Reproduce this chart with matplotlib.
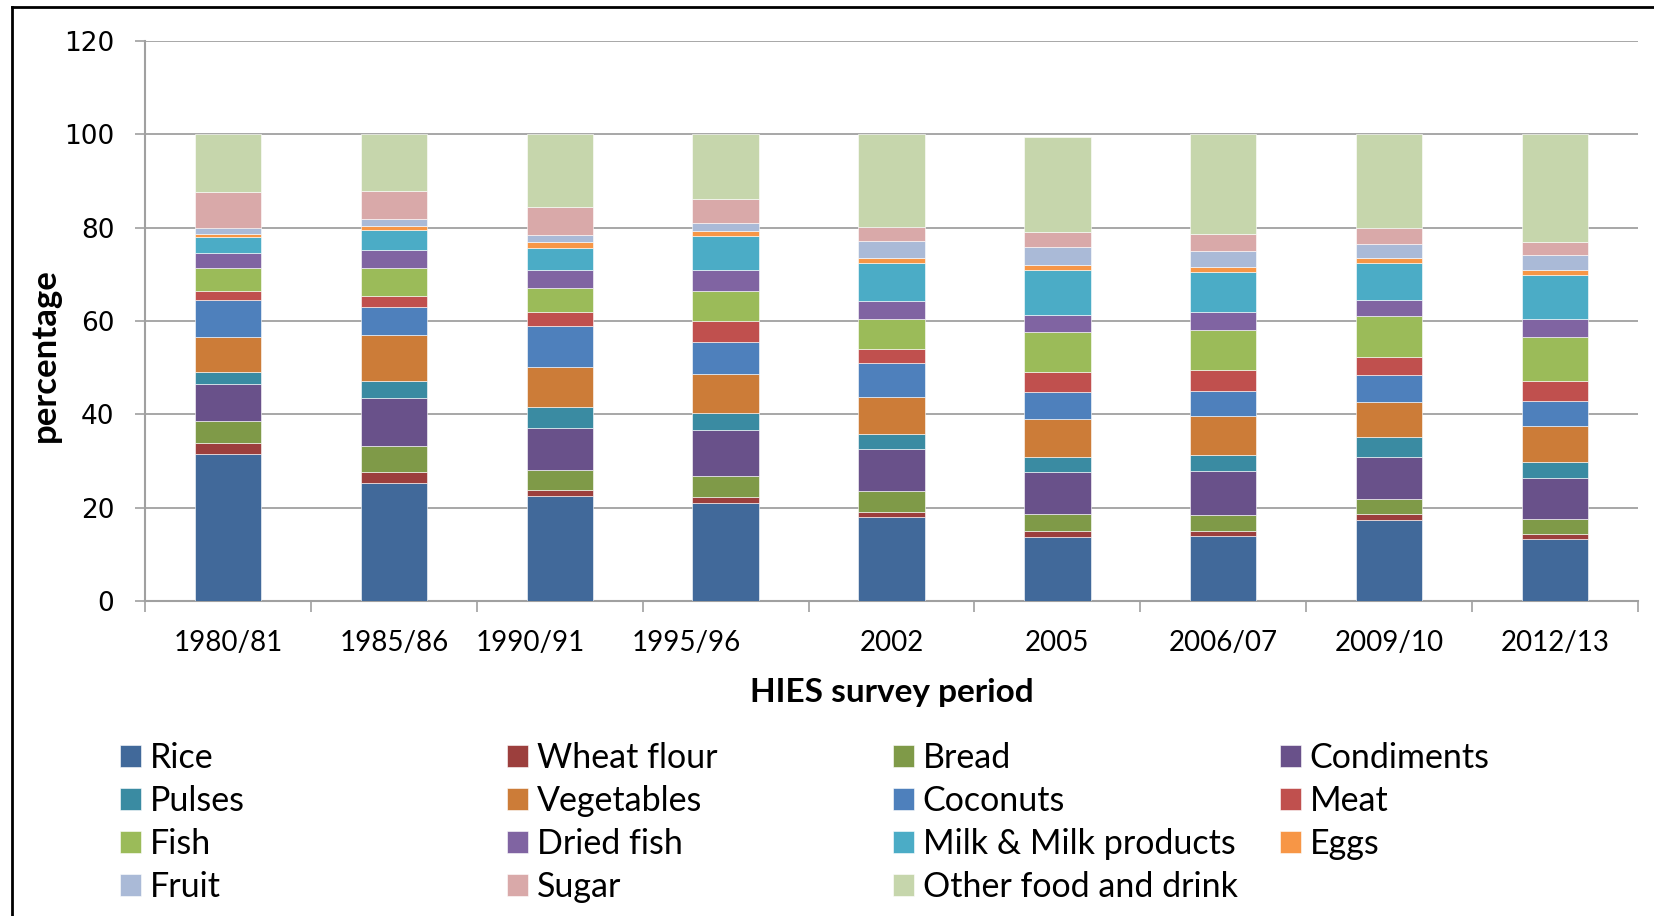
import numpy as np
import matplotlib.pyplot as plt
from matplotlib.lines import Line2D

# survey periods
periods = ['1980/81', '1985/86', '1990/91', '1995/96', '2002', '2005',
           '2006/07', '2009/10', '2012/13']

# share of food expenditure (%), bottom to top
rice       = [31.4, 25.2, 22.4, 21.1, 18.0, 13.7, 13.9, 17.3, 13.2]
wheat      = [2.4, 2.5, 1.3, 1.1, 1.1, 1.2, 1.0, 1.3, 1.2]
bread      = [4.8, 5.5, 4.3, 4.5, 4.4, 3.7, 3.5, 3.3, 3.2]
condiments = [8.0, 10.4, 9.0, 9.9, 9.0, 9.0, 9.4, 9.0, 8.7]
pulses     = [2.4, 3.5, 4.5, 3.6, 3.2, 3.3, 3.4, 4.2, 3.4]
vegetables = [7.5, 10.0, 8.7, 8.4, 8.0, 8.2, 8.5, 7.5, 7.9]
coconuts   = [8.1, 5.8, 8.7, 6.9, 7.2, 5.6, 5.4, 5.8, 5.2]
meat       = [1.8, 2.5, 3.0, 4.4, 3.2, 4.4, 4.3, 3.8, 4.4]
fish       = [5.0, 5.9, 5.2, 6.6, 6.4, 8.5, 8.6, 8.8, 9.3]
dried_fish = [3.2, 4.0, 3.9, 4.5, 3.7, 3.6, 4.0, 3.6, 3.9]
milk       = [3.3, 4.3, 4.7, 7.2, 8.3, 9.8, 8.6, 7.9, 9.5]
eggs       = [0.8, 0.8, 1.2, 1.1, 0.9, 1.0, 1.0, 1.1, 1.0]
fruit      = [1.2, 1.4, 1.5, 1.6, 3.7, 3.9, 3.5, 2.8, 3.3]
sugar      = [7.8, 6.1, 6.1, 5.3, 3.1, 3.2, 3.6, 3.5, 2.8]
other      = [12.3, 12.1, 15.5, 13.8, 19.8, 20.4, 21.3, 20.1, 23.0]

series = [
  ('Rice', rice, '#41699a'),
  ('Wheat flour', wheat, '#9c3f3d'),
  ('Bread', bread, '#7f9a48'),
  ('Condiments', condiments, '#69518a'),
  ('Pulses', pulses, '#3a8ba2'),
  ('Vegetables', vegetables, '#cc7c38'),
  ('Coconuts', coconuts, '#4e80bc'),
  ('Meat', meat, '#c0504e'),
  ('Fish', fish, '#9bbb59'),
  ('Dried fish', dried_fish, '#8064a2'),
  ('Milk & Milk products', milk, '#4bacc6'),
  ('Eggs', eggs, '#f79646'),
  ('Fruit', fruit, '#aabad7'),
  ('Sugar', sugar, '#d9a9a9'),
  ('Other food and drink', other, '#c6d6ac'),
]

# a couple of the category labels sit left of their bars in the original
label_shift = [0, 0, -0.175, -0.235, 0, 0, 0, 0, 0]

FONT = 'Lato'
W, H, DPI = 1654, 916, 100
fig = plt.figure(figsize=(W / DPI, H / DPI), dpi=DPI)
ax = fig.add_axes([145 / W, 1 - 601 / H, (1638 - 145) / W, (601 - 41) / H])

x = np.arange(len(periods))
bottom = np.zeros(len(periods))
handles = []
for name, vals, col in series:
  b = ax.bar(x, vals, 0.4, bottom=bottom, color=col, edgecolor='white',
             linewidth=0.4, label=name, zorder=3)
  handles.append(b)
  bottom += np.array(vals)

grid_col = '#a0a0a0'
ax.set_ylim(0, 120)
ax.set_xlim(-0.5, len(periods) - 0.5)
ax.set_yticks(np.arange(0, 121, 20))
ax.yaxis.grid(True, color=grid_col, linewidth=1.3, zorder=0)
ax.set_axisbelow(True)
for s in ['top', 'right']:
  ax.spines[s].set_visible(False)
for s in ['left', 'bottom']:
  ax.spines[s].set_color(grid_col)
  ax.spines[s].set_linewidth(1.5)

ax.tick_params(axis='y', direction='out', length=7, width=1.2, color=grid_col,
               pad=15, labelsize=19, labelcolor='black')
for t in ax.get_yticklabels():
  t.set_fontfamily('DejaVu Sans')

# tick marks between categories, labels under the bars
ax.set_xticks(np.arange(-0.5, len(periods)))
ax.set_xticklabels([])
ax.set_xticks(x + np.array(label_shift), minor=True)
ax.set_xticklabels(periods, minor=True, fontfamily=FONT, fontsize=20)
ax.tick_params(axis='x', which='major', direction='out', length=8, width=1.2,
               color=grid_col)
ax.tick_params(axis='x', which='minor', length=0, pad=21)

ax.set_xlabel('HIES survey period', fontfamily=FONT, fontsize=24,
              fontweight='bold', va='center')
ax.xaxis.set_label_coords(0.5, -0.163)
ax.set_ylabel('percentage', fontfamily=FONT, fontsize=25, fontweight='bold',
              va='center')
ax.yaxis.set_label_coords(-0.067, 0.44)

# legend: four columns with even spacing, filled row by row
col_x = [120, 507, 893, 1280]
for c in range(4):
  idx = list(range(c, len(series), 4))
  fig.legend([handles[i] for i in idx], [series[i][0] for i in idx],
             loc='upper left', bbox_to_anchor=(col_x[c] / W, 1 - 742 / H),
             frameon=False, prop={'family': FONT, 'size': 24.5},
             handlelength=0.62, handleheight=0.62, handletextpad=0.25,
             labelspacing=0.32, borderpad=0, borderaxespad=0)

# thin black frame at top and left like the source image
fig.add_artist(Line2D([12 / W, 12 / W], [0, 1 - 7 / H], color='black',
                      linewidth=2, transform=fig.transFigure))
fig.add_artist(Line2D([12 / W, 1], [1 - 7 / H, 1 - 7 / H], color='black',
                      linewidth=2, transform=fig.transFigure))

fig.savefig('out.png', dpi=DPI)
